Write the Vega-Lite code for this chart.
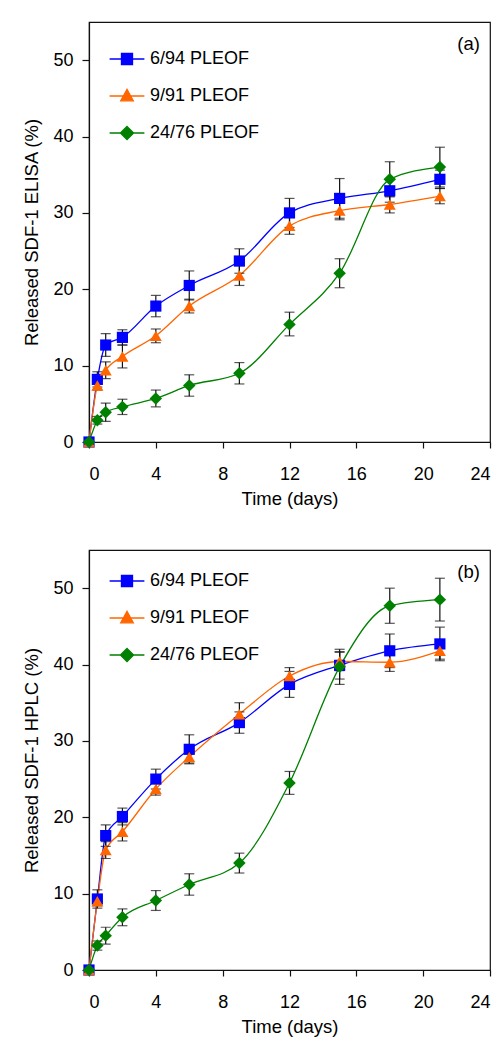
{
  "$schema": "https://vega.github.io/schema/vega-lite/v6.json",
  "padding": {"left": 22, "top": 21, "right": 5, "bottom": 5},
  "datasets": {
    "d": [
      {"p": "a", "s": "6/94 PLEOF", "t": 0, "v": 0, "lo": null, "hi": null},
      {"p": "a", "s": "6/94 PLEOF", "t": 0.5, "v": 8.2, "lo": 7.2, "hi": 9.2},
      {"p": "a", "s": "6/94 PLEOF", "t": 1, "v": 12.7, "lo": 11.2, "hi": 14.2},
      {"p": "a", "s": "6/94 PLEOF", "t": 2, "v": 13.7, "lo": 12.7, "hi": 14.7},
      {"p": "a", "s": "6/94 PLEOF", "t": 4, "v": 17.8, "lo": 16.4, "hi": 19.2},
      {"p": "a", "s": "6/94 PLEOF", "t": 6, "v": 20.5, "lo": 18.6, "hi": 22.4},
      {"p": "a", "s": "6/94 PLEOF", "t": 9, "v": 23.7, "lo": 22.1, "hi": 25.3},
      {"p": "a", "s": "6/94 PLEOF", "t": 12, "v": 30.0, "lo": 28.1, "hi": 31.9},
      {"p": "a", "s": "6/94 PLEOF", "t": 15, "v": 31.9, "lo": 29.3, "hi": 34.5},
      {"p": "a", "s": "6/94 PLEOF", "t": 18, "v": 32.9, "lo": 31.4, "hi": 34.4},
      {"p": "a", "s": "6/94 PLEOF", "t": 21, "v": 34.4, "lo": 33.2, "hi": 35.6},
      {"p": "a", "s": "9/91 PLEOF", "t": 0, "v": 0, "lo": null, "hi": null},
      {"p": "a", "s": "9/91 PLEOF", "t": 0.5, "v": 7.4, "lo": 6.8, "hi": 8.0},
      {"p": "a", "s": "9/91 PLEOF", "t": 1, "v": 9.4, "lo": 8.3, "hi": 10.5},
      {"p": "a", "s": "9/91 PLEOF", "t": 2, "v": 11.2, "lo": 9.7, "hi": 12.7},
      {"p": "a", "s": "9/91 PLEOF", "t": 4, "v": 13.9, "lo": 13.0, "hi": 14.8},
      {"p": "a", "s": "9/91 PLEOF", "t": 6, "v": 17.8, "lo": 16.9, "hi": 18.7},
      {"p": "a", "s": "9/91 PLEOF", "t": 9, "v": 21.8, "lo": 20.5, "hi": 23.1},
      {"p": "a", "s": "9/91 PLEOF", "t": 12, "v": 28.3, "lo": 27.2, "hi": 29.4},
      {"p": "a", "s": "9/91 PLEOF", "t": 15, "v": 30.3, "lo": 29.1, "hi": 31.5},
      {"p": "a", "s": "9/91 PLEOF", "t": 18, "v": 31.1, "lo": 30.0, "hi": 32.2},
      {"p": "a", "s": "9/91 PLEOF", "t": 21, "v": 32.2, "lo": 31.2, "hi": 33.2},
      {"p": "a", "s": "24/76 PLEOF", "t": 0, "v": 0, "lo": null, "hi": null},
      {"p": "a", "s": "24/76 PLEOF", "t": 0.5, "v": 2.85, "lo": 2.35, "hi": 3.35},
      {"p": "a", "s": "24/76 PLEOF", "t": 1, "v": 3.9, "lo": 2.7, "hi": 5.1},
      {"p": "a", "s": "24/76 PLEOF", "t": 2, "v": 4.6, "lo": 3.6, "hi": 5.6},
      {"p": "a", "s": "24/76 PLEOF", "t": 4, "v": 5.7, "lo": 4.6, "hi": 6.8},
      {"p": "a", "s": "24/76 PLEOF", "t": 6, "v": 7.4, "lo": 6.0, "hi": 8.8},
      {"p": "a", "s": "24/76 PLEOF", "t": 9, "v": 9.0, "lo": 7.6, "hi": 10.4},
      {"p": "a", "s": "24/76 PLEOF", "t": 12, "v": 15.4, "lo": 13.9, "hi": 17.0},
      {"p": "a", "s": "24/76 PLEOF", "t": 15, "v": 22.1, "lo": 20.2, "hi": 24.0},
      {"p": "a", "s": "24/76 PLEOF", "t": 18, "v": 34.4, "lo": 32.1, "hi": 36.7},
      {"p": "a", "s": "24/76 PLEOF", "t": 21, "v": 36.0, "lo": 33.4, "hi": 38.6},
      {"p": "b", "s": "6/94 PLEOF", "t": 0, "v": 0, "lo": null, "hi": null},
      {"p": "b", "s": "6/94 PLEOF", "t": 0.5, "v": 9.3, "lo": 8.1, "hi": 10.5},
      {"p": "b", "s": "6/94 PLEOF", "t": 1, "v": 17.6, "lo": 16.2, "hi": 19.0},
      {"p": "b", "s": "6/94 PLEOF", "t": 2, "v": 20.1, "lo": 19.0, "hi": 21.2},
      {"p": "b", "s": "6/94 PLEOF", "t": 4, "v": 25.0, "lo": 23.7, "hi": 26.3},
      {"p": "b", "s": "6/94 PLEOF", "t": 6, "v": 28.9, "lo": 27.0, "hi": 30.8},
      {"p": "b", "s": "6/94 PLEOF", "t": 9, "v": 32.4, "lo": 31.0, "hi": 33.8},
      {"p": "b", "s": "6/94 PLEOF", "t": 12, "v": 37.4, "lo": 35.7, "hi": 39.1},
      {"p": "b", "s": "6/94 PLEOF", "t": 15, "v": 39.9, "lo": 38.1, "hi": 41.7},
      {"p": "b", "s": "6/94 PLEOF", "t": 18, "v": 41.8, "lo": 39.6, "hi": 44.0},
      {"p": "b", "s": "6/94 PLEOF", "t": 21, "v": 42.7, "lo": 40.5, "hi": 44.9},
      {"p": "b", "s": "9/91 PLEOF", "t": 0, "v": 0, "lo": null, "hi": null},
      {"p": "b", "s": "9/91 PLEOF", "t": 0.5, "v": 9.0, "lo": 8.4, "hi": 9.6},
      {"p": "b", "s": "9/91 PLEOF", "t": 1, "v": 15.7, "lo": 14.6, "hi": 16.8},
      {"p": "b", "s": "9/91 PLEOF", "t": 2, "v": 18.1, "lo": 16.9, "hi": 19.3},
      {"p": "b", "s": "9/91 PLEOF", "t": 4, "v": 23.7, "lo": 22.9, "hi": 24.5},
      {"p": "b", "s": "9/91 PLEOF", "t": 6, "v": 27.9, "lo": 27.1, "hi": 28.7},
      {"p": "b", "s": "9/91 PLEOF", "t": 9, "v": 33.5, "lo": 32.0, "hi": 35.0},
      {"p": "b", "s": "9/91 PLEOF", "t": 12, "v": 38.5, "lo": 37.4, "hi": 39.6},
      {"p": "b", "s": "9/91 PLEOF", "t": 15, "v": 40.4, "lo": 39.2, "hi": 41.6},
      {"p": "b", "s": "9/91 PLEOF", "t": 18, "v": 40.3, "lo": 39.1, "hi": 41.5},
      {"p": "b", "s": "9/91 PLEOF", "t": 21, "v": 41.8, "lo": 40.7, "hi": 42.9},
      {"p": "b", "s": "24/76 PLEOF", "t": 0, "v": 0, "lo": null, "hi": null},
      {"p": "b", "s": "24/76 PLEOF", "t": 0.5, "v": 3.2, "lo": 2.6, "hi": 3.8},
      {"p": "b", "s": "24/76 PLEOF", "t": 1, "v": 4.5, "lo": 3.4, "hi": 5.6},
      {"p": "b", "s": "24/76 PLEOF", "t": 2, "v": 6.9, "lo": 5.8, "hi": 8.0},
      {"p": "b", "s": "24/76 PLEOF", "t": 4, "v": 9.1, "lo": 7.8, "hi": 10.4},
      {"p": "b", "s": "24/76 PLEOF", "t": 6, "v": 11.2, "lo": 9.8, "hi": 12.6},
      {"p": "b", "s": "24/76 PLEOF", "t": 9, "v": 14.0, "lo": 12.7, "hi": 15.3},
      {"p": "b", "s": "24/76 PLEOF", "t": 12, "v": 24.5, "lo": 23.0, "hi": 26.0},
      {"p": "b", "s": "24/76 PLEOF", "t": 15, "v": 39.7, "lo": 37.4, "hi": 42.0},
      {"p": "b", "s": "24/76 PLEOF", "t": 18, "v": 47.7, "lo": 45.4, "hi": 50.0},
      {"p": "b", "s": "24/76 PLEOF", "t": 21, "v": 48.5, "lo": 45.7, "hi": 51.3}
    ]
  },
  "config": {
    "font": "Liberation Sans",
    "view": {"stroke": "#111", "strokeWidth": 1.2},
    "axis": {
      "grid": false, "domainColor": "#111", "domainWidth": 1.2,
      "tickColor": "#111", "tickWidth": 1.2, "tickSize": 6,
      "labelFont": "Liberation Sans", "labelFontSize": 18, "labelColor": "#000",
      "titleFont": "Liberation Sans", "titleFontSize": 18.5, "titleFontWeight": "normal", "titleColor": "#000"
    },
    "axisX": {"labelPadding": 17, "titlePadding": 6},
    "axisY": {"labelPadding": 9, "titlePadding": 11, "tickSize": 7},
    "legend": {"title": null, "orient": "none", "padding": 0, "symbolSize": 144, "labelOffset": 14, "rowPadding": 18, "labelFontSize": 18, "labelColor": "#000", "labelFont": "Liberation Sans"}
  },
  "spacing": 40,
  "resolve": {"legend": {"color": "independent"}},
  "vconcat": [
    {
      "width": 401, "height": 420,
      "data": {"name": "d"},
      "transform": [{"filter": "datum.p == 'a'"}],
      "encoding": {
        "x": {"field": "t", "type": "quantitative", "scale": {"domain": [0, 24], "nice": false}, "axis": {"values": [0, 4, 8, 12, 16, 20, 24], "title": "Time (days)"}},
        "y": {"field": "v", "type": "quantitative", "scale": {"domain": [0, 55], "nice": false}, "axis": {"values": [0, 10, 20, 30, 40, 50], "title": "Released SDF-1 ELISA (%)"}},
        "color": {"field": "s", "type": "nominal", "scale": {"domain": ["6/94 PLEOF", "9/91 PLEOF", "24/76 PLEOF"], "range": ["#0000FF", "#FF6600", "#008000"]},
          "legend": {"legendX": 29, "legendY": 28,
            "encode": {"symbols": {"update": {
              "shape": {"signal": "datum.value === '6/94 PLEOF' ? 'M-2.9,0H2.9M-0.92,-0.92H0.92V0.92H-0.92Z' : datum.value === '9/91 PLEOF' ? 'M-2.9,0H2.9M0,-1.1L1.05,0.8H-1.05Z' : 'M-2.9,0H2.9M0,-1.1L1.1,0L0,1.1L-1.1,0Z'"},
              "stroke": {"scale": "color", "field": "value"},
              "fill": {"scale": "color", "field": "value"},
              "strokeWidth": {"value": 1.3},
              "opacity": {"value": 1}
            }}}}}
      },
      "layer": [
        {"mark": {"type": "line", "interpolate": "monotone", "strokeWidth": 1.3, "clip": false}},
        {
          "transform": [{"filter": "datum.lo != null"}],
          "mark": {"type": "rule", "strokeWidth": 1.2},
          "encoding": {"y": {"field": "lo", "type": "quantitative"}, "y2": {"field": "hi"}, "color": {"value": "#111"}}
        },
        {
          "transform": [{"filter": "datum.lo != null"}],
          "mark": {"type": "tick", "orient": "horizontal", "size": 10, "thickness": 1.2},
          "encoding": {"y": {"field": "lo", "type": "quantitative"}, "color": {"value": "#111"}}
        },
        {
          "transform": [{"filter": "datum.lo != null"}],
          "mark": {"type": "tick", "orient": "horizontal", "size": 10, "thickness": 1.2},
          "encoding": {"y": {"field": "hi", "type": "quantitative"}, "color": {"value": "#111"}}
        },
        {
          "transform": [{"filter": "datum.s == '6/94 PLEOF'"}],
          "mark": {"type": "point", "shape": "square", "filled": true, "opacity": 1, "size": 125, "clip": false}
        },
        {
          "transform": [{"filter": "datum.s == '9/91 PLEOF'"}],
          "mark": {"type": "point", "shape": "triangle-up", "filled": true, "opacity": 1, "size": 145, "clip": false}
        },
        {
          "transform": [{"filter": "datum.s == '24/76 PLEOF'"}],
          "mark": {"type": "point", "shape": "diamond", "filled": true, "opacity": 1, "size": 155, "clip": false}
        },
        {
          "transform": [{"filter": "datum.s == '6/94 PLEOF' && datum.t == 21"}],
          "mark": {"type": "text", "align": "right", "baseline": "alphabetic", "fontSize": 18.5, "font": "Liberation Sans", "text": "(a)"},
          "encoding": {"x": {"datum": 23.4}, "y": {"datum": 51.3}, "color": {"value": "#000"}}
        }
      ]
    },
    {
      "width": 401, "height": 420,
      "data": {"name": "d"},
      "transform": [{"filter": "datum.p == 'b'"}],
      "encoding": {
        "x": {"field": "t", "type": "quantitative", "scale": {"domain": [0, 24], "nice": false}, "axis": {"values": [0, 4, 8, 12, 16, 20, 24], "title": "Time (days)"}},
        "y": {"field": "v", "type": "quantitative", "scale": {"domain": [0, 55], "nice": false}, "axis": {"values": [0, 10, 20, 30, 40, 50], "title": "Released SDF-1 HPLC (%)"}},
        "color": {"field": "s", "type": "nominal", "scale": {"domain": ["6/94 PLEOF", "9/91 PLEOF", "24/76 PLEOF"], "range": ["#0000FF", "#FF6600", "#008000"]},
          "legend": {"legendX": 29, "legendY": 22,
            "encode": {"symbols": {"update": {
              "shape": {"signal": "datum.value === '6/94 PLEOF' ? 'M-2.9,0H2.9M-0.92,-0.92H0.92V0.92H-0.92Z' : datum.value === '9/91 PLEOF' ? 'M-2.9,0H2.9M0,-1.1L1.05,0.8H-1.05Z' : 'M-2.9,0H2.9M0,-1.1L1.1,0L0,1.1L-1.1,0Z'"},
              "stroke": {"scale": "color", "field": "value"},
              "fill": {"scale": "color", "field": "value"},
              "strokeWidth": {"value": 1.3},
              "opacity": {"value": 1}
            }}}}}
      },
      "layer": [
        {"mark": {"type": "line", "interpolate": "monotone", "strokeWidth": 1.3, "clip": false}},
        {
          "transform": [{"filter": "datum.lo != null"}],
          "mark": {"type": "rule", "strokeWidth": 1.2},
          "encoding": {"y": {"field": "lo", "type": "quantitative"}, "y2": {"field": "hi"}, "color": {"value": "#111"}}
        },
        {
          "transform": [{"filter": "datum.lo != null"}],
          "mark": {"type": "tick", "orient": "horizontal", "size": 10, "thickness": 1.2},
          "encoding": {"y": {"field": "lo", "type": "quantitative"}, "color": {"value": "#111"}}
        },
        {
          "transform": [{"filter": "datum.lo != null"}],
          "mark": {"type": "tick", "orient": "horizontal", "size": 10, "thickness": 1.2},
          "encoding": {"y": {"field": "hi", "type": "quantitative"}, "color": {"value": "#111"}}
        },
        {
          "transform": [{"filter": "datum.s == '6/94 PLEOF'"}],
          "mark": {"type": "point", "shape": "square", "filled": true, "opacity": 1, "size": 125, "clip": false}
        },
        {
          "transform": [{"filter": "datum.s == '9/91 PLEOF'"}],
          "mark": {"type": "point", "shape": "triangle-up", "filled": true, "opacity": 1, "size": 145, "clip": false}
        },
        {
          "transform": [{"filter": "datum.s == '24/76 PLEOF'"}],
          "mark": {"type": "point", "shape": "diamond", "filled": true, "opacity": 1, "size": 155, "clip": false}
        },
        {
          "transform": [{"filter": "datum.s == '6/94 PLEOF' && datum.t == 21"}],
          "mark": {"type": "text", "align": "right", "baseline": "alphabetic", "fontSize": 18.5, "font": "Liberation Sans", "text": "(b)"},
          "encoding": {"x": {"datum": 23.4}, "y": {"datum": 51.3}, "color": {"value": "#000"}}
        }
      ]
    }
  ]
}
